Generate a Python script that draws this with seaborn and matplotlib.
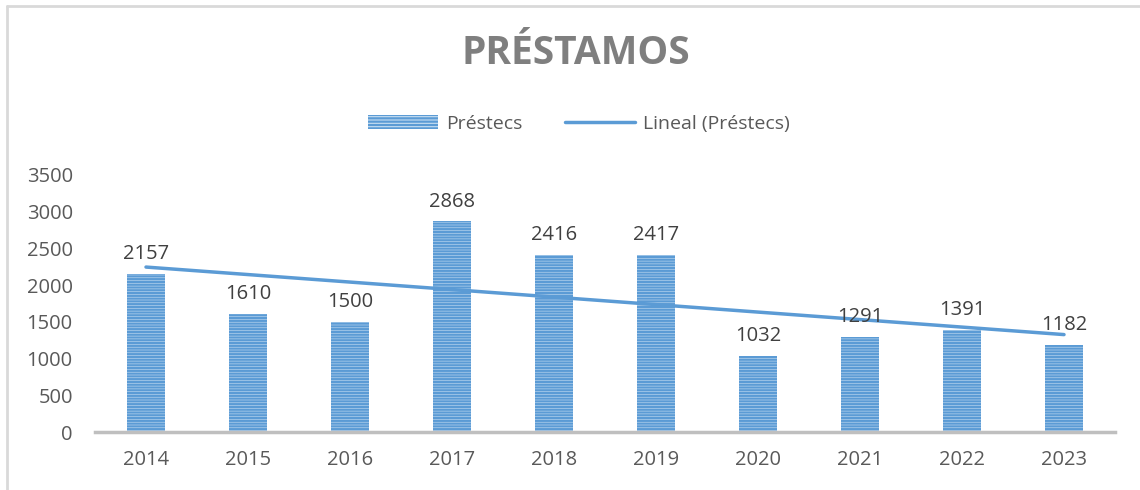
import matplotlib
matplotlib.use("Agg")
import matplotlib.pyplot as plt
import matplotlib.patches as mpatches
from matplotlib.lines import Line2D
import seaborn as sns
import numpy as np
import pandas as pd

years = ["2014", "2015", "2016", "2017", "2018", "2019", "2020", "2021", "2022", "2023"]
prestecs = [2157, 1610, 1500, 2868, 2416, 2417, 1032, 1291, 1391, 1182]
yticks = [0, 500, 1000, 1500, 2000, 2500, 3000, 3500]

sns.set_theme(style="white")
plt.rcParams['font.family'] = ['Open Sans', 'DejaVu Sans']
plt.rcParams['hatch.linewidth'] = 1.6

df = pd.DataFrame({"year": years, "val": prestecs, "idx": np.arange(len(years))})

fig = plt.figure(figsize=(11.4, 4.9), dpi=100)
ax = fig.add_axes([95 / 1140, 1 - 432 / 490, 1020 / 1140, (432 - 175) / 490])

blue = "#5b9bd5"
sns.barplot(data=df, x="year", y="val", ax=ax, color="#c9dff2", width=0.37,
            saturation=1, edgecolor=blue, linewidth=0, hatch="------")
for p in ax.patches:
    p.set_edgecolor(blue)
    p.set_linewidth(0)

# linear trend (Excel "Lineal")
sns.regplot(data=df, x="idx", y="val", ax=ax, scatter=False, ci=None, truncate=True,
            line_kws={"color": blue, "lw": 2.5})

for i, v in enumerate(prestecs):
    ax.annotate(str(v), (i, v), xytext=(0, 7), textcoords="offset points",
                ha="center", va="bottom", fontsize=14.5, color="#404040")

ax.set_xlim(-0.5, len(years) - 0.5)
ax.set_ylim(0, 3500)
ax.set_yticks(yticks)
ax.set_xticks(range(len(years)))
ax.set_xticklabels(years)
ax.set_xlabel("")
ax.set_ylabel("")
ax.tick_params(axis="both", labelsize=14.5, colors="#595959", length=0)
ax.tick_params(axis="x", pad=13)
ax.tick_params(axis="y", pad=16)
for s in ["left", "right", "top"]:
    ax.spines[s].set_visible(False)
ax.spines["bottom"].set_color("#bfbfbf")
ax.spines["bottom"].set_linewidth(2.5)

fig.text(0.505, 1 - 54 / 490, "PRÉSTAMOS", ha="center", va="center",
         fontsize=28, fontweight="bold", color="#7f7f7f")

bar_handle = mpatches.Patch(facecolor="#c9dff2", edgecolor=blue, hatch="-----", linewidth=0)
line_handle = Line2D([], [], color=blue, lw=2.5)
fig.legend([bar_handle, line_handle], ["Préstecs", "Lineal (Préstecs)"],
           loc="center", bbox_to_anchor=(0.508, 1 - 124 / 490), ncol=2, frameon=False,
           fontsize=14, labelcolor="#595959", handlelength=3.6, columnspacing=2.2,
           handletextpad=0.4)

# chart frame
fig.add_artist(Line2D([7 / 1140, 7 / 1140], [0, 1 - 6 / 490], transform=fig.transFigure,
                      color="#d9d9d9", lw=2))
fig.add_artist(Line2D([7 / 1140, 1], [1 - 6 / 490, 1 - 6 / 490], transform=fig.transFigure,
                      color="#d9d9d9", lw=2))

fig.savefig("out.png", dpi=100, facecolor="white")
